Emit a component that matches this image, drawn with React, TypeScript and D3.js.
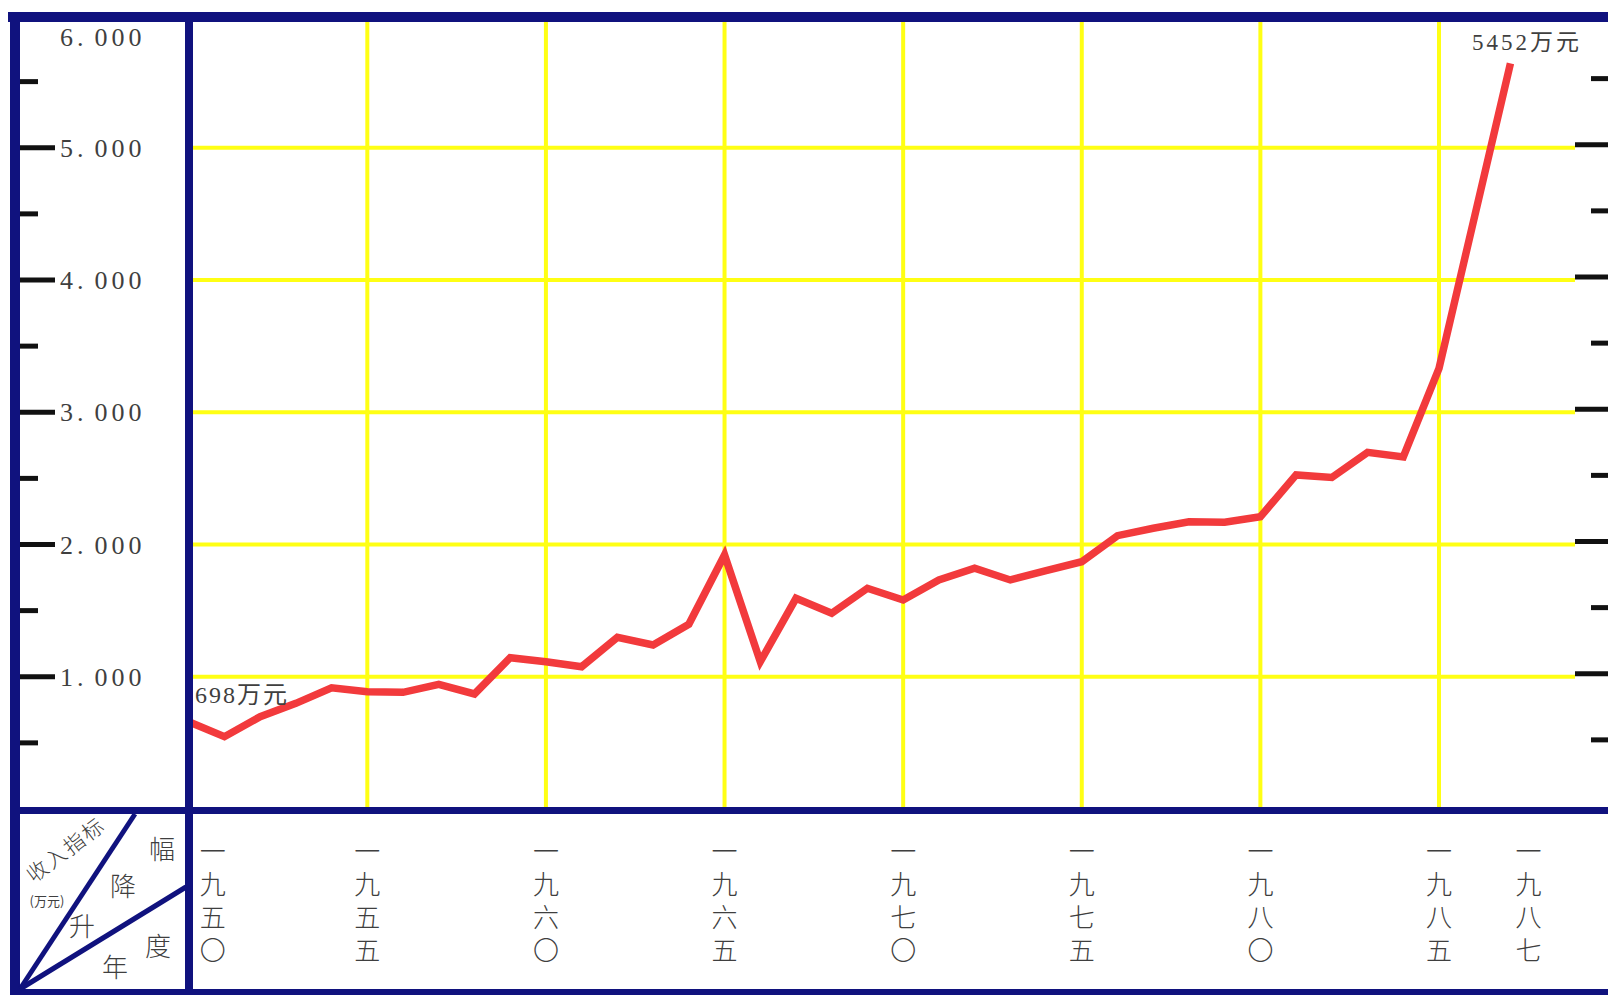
import * as d3 from "d3";
import { useEffect, useRef } from "react";

const years = [
  1950, 1951, 1952, 1953, 1954, 1955, 1956, 1957, 1958, 1959,
  1960, 1961, 1962, 1963, 1964, 1965, 1966, 1967, 1968, 1969,
  1970, 1971, 1972, 1973, 1974, 1975, 1976, 1977, 1978, 1979,
  1980, 1981, 1982, 1983, 1984, 1985, 1986, 1987,
];
// 收入 (万元)
const income = [
  660, 547, 698, 799, 917, 887, 882, 943, 870, 1144,
  1114, 1076, 1298, 1240, 1397, 1921, 1114, 1593, 1480, 1669,
  1580, 1732, 1820, 1732, 1802, 1870, 2067, 2123, 2172, 2168,
  2210, 2526, 2507, 2697, 2662, 3332, 4484, 5638,
];
const labelYears = [1950, 1955, 1960, 1965, 1970, 1975, 1980, 1985, 1987];
const gridYears = [1955, 1960, 1965, 1970, 1975, 1980, 1985];
const majorTicks = [1000, 2000, 3000, 4000, 5000];
const minorTicks = [500, 1500, 2500, 3500, 4500, 5500];
const tickLabels = ["1", "2", "3", "4", "5", "6"];
const startNote = "698万元";
const endNote = "5452万元";

const cnDigit: Record<string, string> = {
  "0": "〇", "1": "一", "5": "五", "6": "六", "7": "七", "8": "八", "9": "九",
};

export default function App() {
  const svgRef = useRef<SVGSVGElement>(null);

  useEffect(() => {
    const W = 1608;
    const H = 995;
    const navy = "#10127e";
    const yellow = "#ffff14";
    const ink = "#3f3f3f";
    const serif = "'Liberation Serif', 'DejaVu Serif', 'Noto Sans CJK SC', serif";
    const cjk = "'Noto Sans CJK SC', sans-serif";

    const svg = d3.select(svgRef.current).attr("width", W).attr("height", H);
    svg.selectAll("*").remove();

    const x = d3.scaleLinear().domain([1950, 1985]).range([188.7, 1439]);
    const y = d3.scaleLinear().domain([0, 6000]).range([809, 15.5]);

    svg.append("rect").attr("width", W).attr("height", H).attr("fill", "#fff");

    // grid
    svg.append("g")
      .selectAll("line")
      .data(majorTicks)
      .join("line")
      .attr("x1", 193).attr("x2", 1575)
      .attr("y1", (d) => y(d)).attr("y2", (d) => y(d))
      .attr("stroke", yellow).attr("stroke-width", 4);
    svg.append("g")
      .selectAll("line")
      .data(gridYears)
      .join("line")
      .attr("x1", (d) => x(d)).attr("x2", (d) => x(d))
      .attr("y1", 22).attr("y2", 807)
      .attr("stroke", yellow).attr("stroke-width", 4);

    // income line
    const line = d3.line<number>()
      .x((_, i) => x(years[i]))
      .y((d) => y(d));
    svg.append("path")
      .datum(income)
      .attr("d", line)
      .attr("fill", "none")
      .attr("stroke", "#f23a3c")
      .attr("stroke-width", 7.5)
      .attr("stroke-linejoin", "miter");

    // frame
    const bands = [
      [8, 12, W - 8, 10],
      [10, 12, 10, H - 12],
      [185, 12, 8, 978],
      [10, 807, W - 10, 7],
      [10, 989, W - 10, 6],
    ];
    svg.append("g")
      .selectAll("rect")
      .data(bands)
      .join("rect")
      .attr("x", (d) => d[0]).attr("y", (d) => d[1])
      .attr("width", (d) => d[2]).attr("height", (d) => d[3])
      .attr("fill", navy);

    // ticks left and right
    const tickG = svg.append("g").attr("stroke", "#111").attr("stroke-width", 5);
    tickG.selectAll(".lmaj").data(majorTicks).join("line").attr("class", "lmaj")
      .attr("x1", 20).attr("x2", 55).attr("y1", (d) => y(d)).attr("y2", (d) => y(d));
    tickG.selectAll(".lmin").data(minorTicks).join("line").attr("class", "lmin")
      .attr("x1", 20).attr("x2", 38).attr("y1", (d) => y(d)).attr("y2", (d) => y(d));
    tickG.selectAll(".rmaj").data(majorTicks).join("line").attr("class", "rmaj")
      .attr("x1", 1575).attr("x2", W).attr("y1", (d) => y(d) - 3).attr("y2", (d) => y(d) - 3);
    tickG.selectAll(".rmin").data(minorTicks).join("line").attr("class", "rmin")
      .attr("x1", 1591).attr("x2", W).attr("y1", (d) => y(d) - 3).attr("y2", (d) => y(d) - 3);

    // y labels
    const lab = svg.append("g")
      .attr("font-family", serif).attr("font-size", 26).attr("fill", ink)
      .attr("letter-spacing", 4);
    tickLabels.forEach((t, i) => {
      const v = (i + 1) * 1000;
      const ty = v === 6000 ? 37 : y(v);
      const txt = lab.append("text").attr("x", 60).attr("y", ty).attr("dy", "0.35em");
      txt.append("tspan").text(t + ".");
      txt.append("tspan").attr("dx", 7).text("000");
    });

    // notes
    svg.append("text")
      .attr("x", 195).attr("y", 695).attr("dy", "0.35em")
      .attr("font-family", serif).attr("font-size", 24).attr("fill", ink)
      .attr("letter-spacing", 2)
      .text(startNote);
    svg.append("text")
      .attr("x", 1472).attr("y", 42).attr("dy", "0.35em")
      .attr("font-family", serif).attr("font-size", 23).attr("fill", ink)
      .attr("letter-spacing", 3)
      .text(endNote);

    // year labels, written top to bottom
    svg.append("g")
      .attr("font-family", cjk).attr("font-size", 26).attr("font-weight", 300)
      .attr("fill", ink).attr("text-anchor", "middle")
      .selectAll("text")
      .data(labelYears)
      .join("text")
      .attr("x", (d) => (d === 1950 ? x(d) + 24 : d === 1987 ? x(d) + 18 : x(d)))
      .attr("y", 904)
      .attr("writing-mode", "vertical-rl")
      .attr("letter-spacing", 7)
      .text((d) => String(d).split("").map((c) => cnDigit[c]).join(""));

    // corner header
    const corner = svg.append("g");
    corner.append("line").attr("x1", 20).attr("y1", 989).attr("x2", 135).attr("y2", 814)
      .attr("stroke", navy).attr("stroke-width", 5);
    corner.append("line").attr("x1", 20).attr("y1", 989).attr("x2", 186).attr("y2", 887)
      .attr("stroke", navy).attr("stroke-width", 5);
    corner.append("text")
      .attr("transform", "translate(66,850) rotate(-37)")
      .attr("text-anchor", "middle").attr("dy", "0.35em")
      .attr("font-family", cjk).attr("font-size", 21).attr("font-weight", 300)
      .attr("letter-spacing", 2).attr("fill", ink)
      .text("收入指标");
    corner.append("text")
      .attr("x", 47).attr("y", 901).attr("dy", "0.35em").attr("text-anchor", "middle")
      .attr("font-family", cjk).attr("font-size", 13).attr("fill", ink)
      .text("(万元)");
    const headChars: [string, number, number][] = [
      ["幅", 162, 850], ["降", 123, 887], ["升", 82, 927], ["度", 158, 947], ["年", 115, 968],
    ];
    corner.selectAll(".hc").data(headChars).join("text").attr("class", "hc")
      .attr("x", (d) => d[1]).attr("y", (d) => d[2]).attr("dy", "0.35em")
      .attr("text-anchor", "middle")
      .attr("font-family", cjk).attr("font-size", 26).attr("font-weight", 300)
      .attr("fill", ink)
      .text((d) => d[0]);
  }, []);

  return (
    <svg ref={svgRef} style={{ position: "absolute", left: 0, top: 0, display: "block" }}></svg>
  );
}
